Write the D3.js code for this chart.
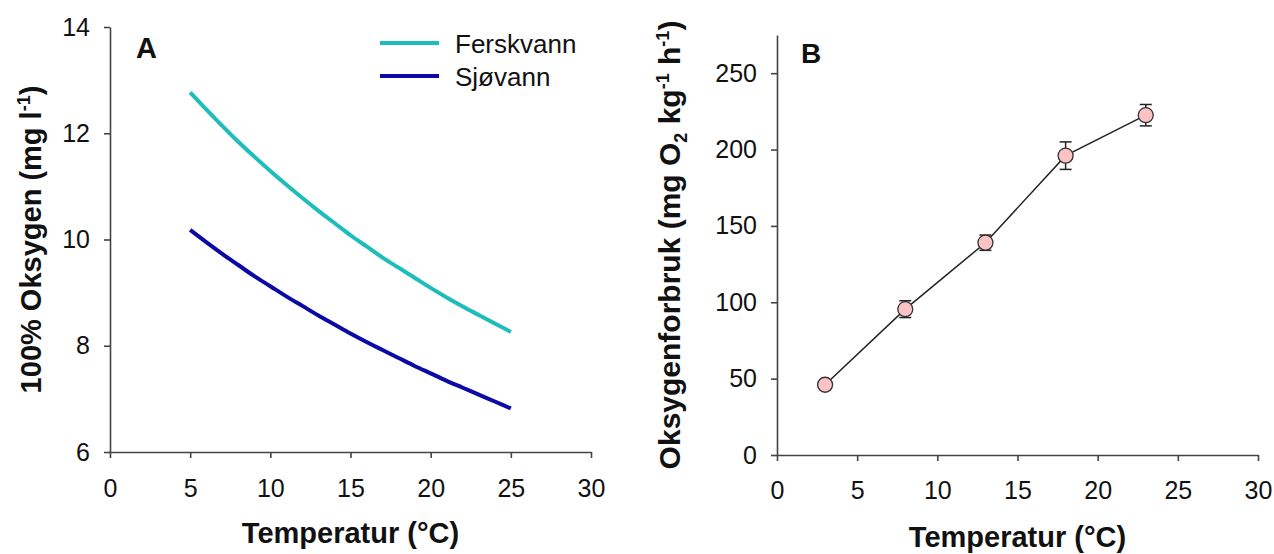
<!DOCTYPE html>
<html>
<head>
<meta charset="utf-8">
<script src="https://cdn.jsdelivr.net/npm/d3@7"></script>
<style>
  html, body { margin: 0; padding: 0; background: #fff; }
  svg { display: block; font-family: "Liberation Sans", Arial, sans-serif; }
</style>
</head>
<body>
<svg id="chart" width="1274" height="554"></svg>
<script>
// ---- Data ----
// Panel A: oxygen saturation (mg/l) vs temperature
const tempA = [5,6,7,8,9,10,11,12,13,14,15,16,17,18,19,20,21,22,23,24,25];
const ferskvann = [12.77,12.45,12.14,11.84,11.56,11.29,11.03,10.78,10.54,10.31,10.08,9.87,9.66,9.47,9.28,9.09,8.91,8.74,8.58,8.42,8.26];
const sjovann = [10.18,9.95,9.73,9.52,9.31,9.12,8.93,8.75,8.57,8.40,8.23,8.07,7.92,7.77,7.62,7.48,7.34,7.21,7.08,6.95,6.82];
const seriesNamesA = ["Ferskvann", "Sjøvann"];
const xTicks = [0,5,10,15,20,25,30];
const yTicksA = [6,8,10,12,14];
// Panel B: oxygen consumption
const tempB = [3,8,13,18,23];
const forbruk = [46,95.5,139,196,222.5];
const forbrukSE = [3,5.5,5,9,7];
const yTicksB = [0,50,100,150,200,250];

// ---- Drawing ----
const svg = d3.select("#chart");
const axisColor = "#444";
const tickFont = 25;
const titleFont = 29;
const colors = { "Ferskvann": "#1dbdbb", "Sjøvann": "#0b0aa6" };

function styleAxis(g) {
  g.select(".domain").attr("stroke", axisColor).attr("stroke-width", 1.6);
  g.selectAll(".tick line").attr("stroke", axisColor).attr("stroke-width", 1.6);
  g.selectAll(".tick text").attr("fill", "#111").attr("font-size", tickFont)
    .attr("font-family", "'Liberation Sans', Arial, sans-serif");
}

// Panel A
const xA = d3.scaleLinear().domain([0,30]).range([110,591]);
const yA = d3.scaleLinear().domain([6,14]).range([452,27]);

svg.append("g").attr("transform", "translate(0,452)")
  .call(d3.axisBottom(xA).tickValues(xTicks).tickSize(6).tickSizeOuter(0).tickPadding(21).tickFormat(d3.format("d")))
  .call(styleAxis);
svg.append("g").attr("transform", "translate(110,0)")
  .call(d3.axisLeft(yA).tickValues(yTicksA).tickSize(6).tickSizeOuter(0).tickPadding(14).tickFormat(d3.format("d")))
  .call(styleAxis);

const lineA = d3.line().x(d => xA(d[0])).y(d => yA(d[1])).curve(d3.curveMonotoneX);
const seriesA = [
  { name: "Ferskvann", values: tempA.map((t,i) => [t, ferskvann[i]]) },
  { name: "Sjøvann", values: tempA.map((t,i) => [t, sjovann[i]]) }
];
svg.selectAll("path.seriesA").data(seriesA).enter().append("path")
  .attr("class", "seriesA")
  .attr("d", d => lineA(d.values))
  .attr("fill", "none")
  .attr("stroke", d => colors[d.name])
  .attr("stroke-width", 4);

// Legend
const legend = svg.append("g");
seriesNamesA.forEach((name, i) => {
  const y = 43 + i * 33;
  legend.append("line").attr("x1", 380).attr("x2", 439).attr("y1", y).attr("y2", y)
    .attr("stroke", colors[name]).attr("stroke-width", 4);
  legend.append("text").attr("x", 455).attr("y", y + 10).attr("font-size", 26)
    .attr("fill", "#111").text(name);
});

// Panel label A
svg.append("text").attr("x", 136).attr("y", 58).attr("font-size", 29).attr("font-weight", "bold")
  .attr("fill", "#111").text("A");

// Axis titles A
svg.append("text").attr("x", (110+591)/2).attr("y", 543).attr("text-anchor", "middle")
  .attr("font-size", titleFont).attr("font-weight", "bold").attr("fill", "#111")
  .text("Temperatur (°C)");
const yTitleA = svg.append("text").attr("transform", `translate(41,${(27+452)/2}) rotate(-90)`)
  .attr("text-anchor", "middle").attr("font-size", titleFont).attr("font-weight", "bold").attr("fill", "#111");
yTitleA.append("tspan").text("100% Oksygen (mg l");
yTitleA.append("tspan").attr("font-size", 18).attr("dy", -11).text("-1");
yTitleA.append("tspan").attr("dy", 11).text(")");

// Panel B
const xB = d3.scaleLinear().domain([0,30]).range([777,1258]);
const yB = d3.scaleLinear().domain([0,275]).range([455,35]);

svg.append("g").attr("transform", "translate(0,455)")
  .call(d3.axisBottom(xB).tickValues(xTicks).tickSize(6).tickSizeOuter(0).tickPadding(20).tickFormat(d3.format("d")))
  .call(styleAxis);
svg.append("g").attr("transform", "translate(777,0)")
  .call(d3.axisLeft(yB).tickValues(yTicksB).tickSize(6).tickSizeOuter(0).tickPadding(14).tickFormat(d3.format("d")))
  .call(styleAxis);

const ptsB = tempB.map((t,i) => ({ t, v: forbruk[i], se: forbrukSE[i] }));
svg.append("path").datum(ptsB)
  .attr("d", d3.line().x(d => xB(d.t)).y(d => yB(d.v)))
  .attr("fill", "none").attr("stroke", "#222").attr("stroke-width", 1.5);

const eb = svg.selectAll("g.err").data(ptsB).enter().append("g").attr("class", "err")
  .attr("stroke", "#222").attr("stroke-width", 1.5);
eb.append("line").attr("x1", d => xB(d.t)).attr("x2", d => xB(d.t))
  .attr("y1", d => yB(d.v - d.se)).attr("y2", d => yB(d.v + d.se));
eb.append("line").attr("x1", d => xB(d.t) - 6).attr("x2", d => xB(d.t) + 6)
  .attr("y1", d => yB(d.v - d.se)).attr("y2", d => yB(d.v - d.se));
eb.append("line").attr("x1", d => xB(d.t) - 6).attr("x2", d => xB(d.t) + 6)
  .attr("y1", d => yB(d.v + d.se)).attr("y2", d => yB(d.v + d.se));

svg.selectAll("circle.pt").data(ptsB).enter().append("circle").attr("class", "pt")
  .attr("cx", d => xB(d.t)).attr("cy", d => yB(d.v)).attr("r", 7.5)
  .attr("fill", "#fbc3c3").attr("stroke", "#333").attr("stroke-width", 1.3);

// Panel label B
svg.append("text").attr("x", 801).attr("y", 63).attr("font-size", 28).attr("font-weight", "bold")
  .attr("fill", "#111").text("B");

// Axis titles B
svg.append("text").attr("x", (777+1258)/2).attr("y", 547).attr("text-anchor", "middle")
  .attr("font-size", titleFont).attr("font-weight", "bold").attr("fill", "#111")
  .text("Temperatur (°C)");
const yTitleB = svg.append("text").attr("transform", `translate(680,${(35+455)/2}) rotate(-90)`)
  .attr("text-anchor", "middle").attr("font-size", 30).attr("font-weight", "bold").attr("fill", "#111");
yTitleB.append("tspan").text("Oksygenforbruk (mg O");
yTitleB.append("tspan").attr("font-size", 18).attr("dy", 7).text("2");
yTitleB.append("tspan").attr("dy", -7).text(" kg");
yTitleB.append("tspan").attr("font-size", 18).attr("dy", -11).text("-1");
yTitleB.append("tspan").attr("dy", 11).text(" h");
yTitleB.append("tspan").attr("font-size", 18).attr("dy", -11).text("-1");
yTitleB.append("tspan").attr("dy", 11).text(")");
</script>
</body>
</html>
